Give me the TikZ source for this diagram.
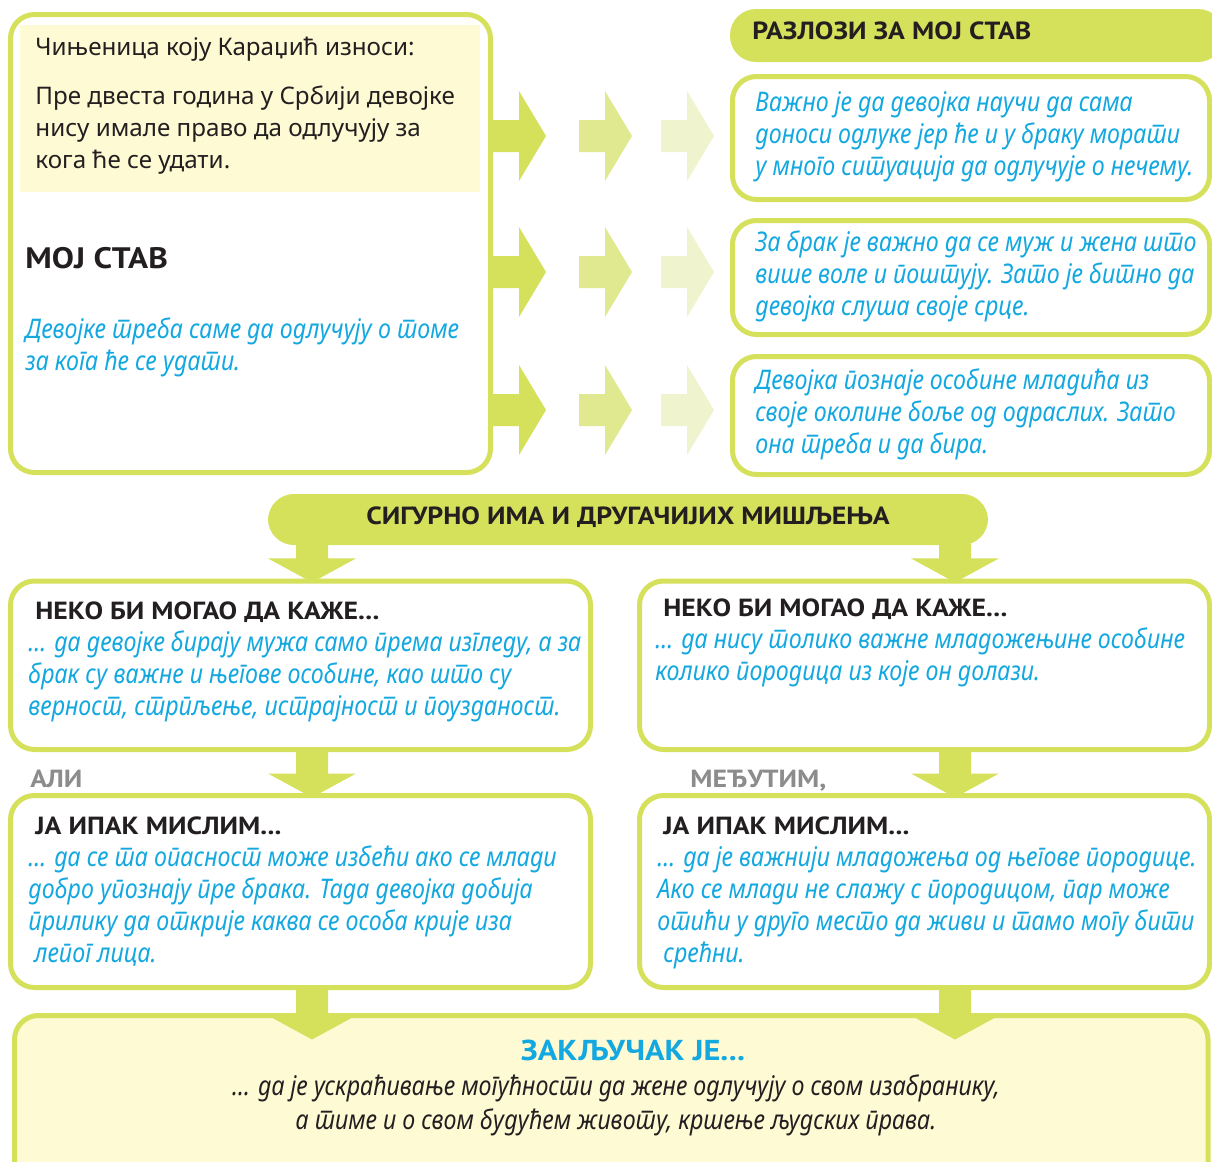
\documentclass[tikz,border=0pt]{standalone}
\usepackage{fontspec}
\setmainfont{Noto Sans}[Script=Cyrillic, Language=Serbian]
\newfontfamily\uski{Noto Sans}[Script=Cyrillic, Language=Serbian, FakeStretch=0.86]
\newfontfamily\masni{PT Sans}[Script=Cyrillic, FakeStretch=1.12]
\usetikzlibrary{calc,fit}
\definecolor{lime}{HTML}{D5E05B}
\definecolor{limeB}{HTML}{E1E990}
\definecolor{limeC}{HTML}{EFF4CE}
\definecolor{krem}{HTML}{FEFAD4}
\definecolor{plava}{HTML}{13A8E0}
\definecolor{ink}{HTML}{231F20}
\definecolor{siva}{HTML}{8C8C8C}

\begin{document}
\begin{tikzpicture}[x=0.5pt, y=-0.5pt,
  okvir/.style={draw=lime, line width=2.5pt, rounded corners=12pt, fill=white, inner sep=0pt},
  traka/.style={fill=lime, rounded corners=13pt, inner sep=0pt},
  tekst/.style={anchor=base west, inner sep=0pt, align=left, text=ink, font=\fontsize{12.1}{16}\selectfont},
  plavo/.style={anchor=base west, inner sep=0pt, align=left, text=plava, font=\uski\itshape\fontsize{13.5}{16}\selectfont},
  naslov/.style={anchor=base west, inner sep=0pt, text=ink, font=\masni\bfseries\fontsize{12.4}{16}\selectfont},
  desno/.pic={\fill (0,-16) -- (26,-16) -- (26,-45) -- (53,0) -- (26,45) -- (26,16) -- (0,16) -- cycle;},
  dole/.pic={\fill (-16,-2) -- (16,-2) -- (16,#1) -- (44,#1) -- (0,#1+24) -- (-44,#1) -- (-16,#1) -- cycle;},
]
\useasboundingbox (0,0) rectangle (1212,1162);

% Cinjenica i moj stav
\node[okvir, fit={(10.5,14.5) (490.5,472.5)}] (fact) {};
\fill[krem] (20,25) rectangle (480,192);
\node[tekst] (cinjenica) at (35,55) {Чињеница коју Караџић износи:};
\node[tekst] (pre) at (35,168) {Пре двеста година у Србији девојке\\нису имале право да одлучују за\\кога ће се удати.};
\node[naslov, font=\masni\bfseries\fontsize{14.8}{18}\selectfont] (stav) at (25,268) {МОЈ СТАВ};
\node[plavo] (stavtekst) at (25,370) {Девојке треба саме да одлучују о томе\\за кога ће се удати.};

% Razlozi
\node[traka, fit={(730,9) (1224,62)}] (razlozi) {};
\node[naslov] (razlozinaslov) at (752,39) {РАЗЛОЗИ ЗА МОЈ СТАВ};
\node[okvir, fit={(732.5,76.5) (1209.5,199.5)}] (razlog1) {};
\node[okvir, fit={(732.5,220.5) (1209.5,334.5)}] (razlog2) {};
\node[okvir, fit={(732.5,356.5) (1209.5,474.5)}] (razlog3) {};
\node[plavo] (razlog1tekst) at (755,175) {Важно је да девојка научи да сама\\доноси одлуке јер ће и у браку морати\\у много ситуација да одлучује о нечему.};
\node[plavo] (razlog2tekst) at (755,315) {За брак је важно да се муж и жена што\\више воле и поштују. Зато је битно да\\девојка слуша своје срце.};
\node[plavo] (razlog3tekst) at (755,453) {Девојка познаје особине младића из\\своје околине боље од одраслих. Зато\\она треба и да бира.};

% Strelice udesno
\foreach \r [count=\i] in {136,272,410} {
  \coordinate (red\i) at (0,\r);
  \pic[lime] at (fact.east |- red\i) {desno};
  \pic[limeB] at ($(fact.east |- red\i)+(86,0)$) {desno};
  \pic[limeC] at ($(fact.east |- red\i)+(168,0)$) {desno};
}

% Druga misljenja
\node[traka, fit={(268,494) (988,545)}] (banner) {};
\node[naslov, anchor=base] (bannertekst) at (628,524) {СИГУРНО ИМА И ДРУГАЧИЈИХ МИШЉЕЊА};

\node[okvir, fit={(10.5,581) (590.5,749.5)}] (mlevo) {};
\node[okvir, fit={(639.5,581) (1209.5,749.5)}] (mdesno) {};
\node[okvir, fit={(10.5,795.5) (590.5,987.5)}] (dlevo) {};
\node[okvir, fit={(639.5,795.5) (1209.5,987.5)}] (ddesno) {};
\node[okvir, fill=krem, fit={(14.5,1015.5) (1208,1200)}] (zakljucak) {};

% Strelice nadole
\coordinate (stupL) at (312,0);
\coordinate (stupD) at (955,0);
\foreach \s in {stupL,stupD} {
  \pic[lime] at (banner.south -| \s) {dole=13};
  \pic[lime] at (mlevo.south -| \s) {dole=21.5};
  \pic[lime] at (dlevo.south -| \s) {dole=25.5};
}

% Tekstovi
\node[naslov] (neko1) at (35,619) {НЕКО БИ МОГАО ДА КАЖЕ...};
\node[plavo] (neko1tekst) at (28,715) {... да девојке бирају мужа само према изгледу, а за\\брак су важне и његове особине, као што су\\верност, стрпљење, истрајност и поузданост.};
\node[naslov] (neko2) at (663,616) {НЕКО БИ МОГАО ДА КАЖЕ...};
\node[plavo] (neko2tekst) at (655,680) {... да нису толико важне младожењине особине\\колико породица из које он долази.};
\node[naslov, text=siva] (ali) at (30,787) {АЛИ};
\node[naslov, text=siva] (medjutim) at (690,787) {МЕЂУТИМ,};
\node[naslov] (ipak1) at (35,834) {ЈА ИПАК МИСЛИМ...};
\node[plavo] (ipak1tekst) at (28,962) {... да се та опасност може избећи ако се млади\\добро упознају пре брака. Тада девојка добија\\прилику да открије каква се особа крије иза\\\ лепог лица.};
\node[naslov] (ipak2) at (663,834) {ЈА ИПАК МИСЛИМ...};
\node[plavo] (ipak2tekst) at (657,962) {... да је важнији младожења од његове породице.\\Ако се млади не слажу с породицом, пар може\\отићи у друго место да живи и тамо могу бити\\\ срећни.};
\node[naslov, anchor=base, text=plava, font=\masni\bfseries\fontsize{14.4}{18}\selectfont] (zaknaslov) at (633,1060) {ЗАКЉУЧАК ЈЕ...};
\node[plavo, anchor=base, align=center, text=ink, font=\uski\itshape\fontsize{13.5}{17}\selectfont] (zaktekst) at (616,1129) {... да је ускраћивање могућности да жене одлучују о свом изабранику,\\а тиме и о свом будућем животу, кршење људских права.};
\end{tikzpicture}
\end{document}
